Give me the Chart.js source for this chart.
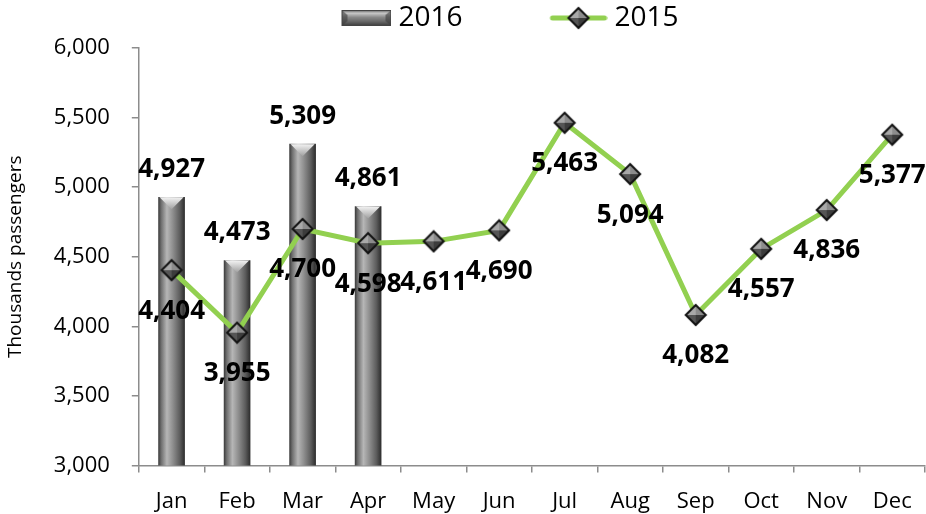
<!DOCTYPE html>
<html>
<head>
<meta charset="utf-8">
<script src="https://cdn.jsdelivr.net/npm/chart.js@4.4.1/dist/chart.umd.min.js"></script>
<style>
html,body{margin:0;padding:0;background:#fff;}
#wrap{width:926px;height:514px;position:relative;overflow:hidden;}
</style>
</head>
<body>
<div id="wrap"><canvas id="c" width="926" height="514"></canvas></div>
<script>
// ---- data ----
const months = ['Jan','Feb','Mar','Apr','May','Jun','Jul','Aug','Sep','Oct','Nov','Dec'];
const values2016 = [4927, 4473, 5309, 4861, null, null, null, null, null, null, null, null];
const values2015 = [4404, 3955, 4700, 4598, 4611, 4690, 5463, 5094, 4082, 4557, 4836, 5377];
const seriesNames = ['2016', '2015'];
const yMin = 3000, yMax = 6000, yStep = 500;
const yTitle = 'Thousands passengers';

const FONT = "'Open Sans', 'DejaVu Sans', sans-serif";
const GREEN = '#92D050';

// ---- icons ----
function diamondCanvas(r) {
  const s = r * 2 + 4, c = document.createElement('canvas');
  c.width = s; c.height = s;
  const g = c.getContext('2d'), m = s / 2;
  const facets = [
    [[m, m - r], [m - r, m], '#a9a9a9'],
    [[m, m - r], [m + r, m], '#8c8c8c'],
    [[m - r, m], [m, m + r], '#555555'],
    [[m + r, m], [m, m + r], '#3c3c3c']
  ];
  facets.forEach(f => {
    g.beginPath(); g.moveTo(m, m); g.lineTo(f[0][0], f[0][1]); g.lineTo(f[1][0], f[1][1]); g.closePath();
    g.fillStyle = f[2]; g.fill();
  });
  g.beginPath(); g.moveTo(m, m - r); g.lineTo(m + r, m); g.lineTo(m, m + r); g.lineTo(m - r, m); g.closePath();
  g.lineWidth = 2; g.strokeStyle = '#111'; g.stroke();
  return c;
}
const pointImg = diamondCanvas(10);

const BOXW = 134;
function barLegendIcon() {
  const w = BOXW + 14, h = 22, c = document.createElement('canvas');
  c.width = w; c.height = h;
  const g = c.getContext('2d');
  const x0 = w - 50, y0 = 3, bw = 50, bh = 16;
  const gr = g.createLinearGradient(0, y0, 0, y0 + bh);
  gr.addColorStop(0, '#5a5a5a'); gr.addColorStop(0.2, '#c8c8c8'); gr.addColorStop(0.45, '#8a8a8a');
  gr.addColorStop(0.7, '#6a6a6a'); gr.addColorStop(1, '#3a3a3a');
  g.fillStyle = gr; g.fillRect(x0, y0, bw, bh);
  g.fillStyle = 'rgba(60,60,60,0.6)';
  g.beginPath(); g.moveTo(x0, y0); g.lineTo(x0 + 6, y0 + 5); g.lineTo(x0 + 6, y0 + bh - 5); g.lineTo(x0, y0 + bh); g.closePath(); g.fill();
  g.beginPath(); g.moveTo(x0 + bw, y0); g.lineTo(x0 + bw - 6, y0 + 5); g.lineTo(x0 + bw - 6, y0 + bh - 5); g.lineTo(x0 + bw, y0 + bh); g.closePath(); g.fill();
  g.strokeStyle = '#444'; g.lineWidth = 1; g.strokeRect(x0 + 0.5, y0 + 0.5, bw - 1, bh - 1);
  return c;
}
function lineLegendIcon() {
  const w = BOXW + 14, h = 26, c = document.createElement('canvas');
  c.width = w; c.height = h;
  const g = c.getContext('2d');
  const x0 = w - 58;
  g.strokeStyle = GREEN; g.lineWidth = 5; g.lineCap = 'round';
  g.beginPath(); g.moveTo(x0 + 3, h / 2); g.lineTo(w - 3, h / 2); g.stroke();
  g.drawImage(pointImg, x0 + 29 - pointImg.width / 2, h / 2 - pointImg.height / 2);
  return c;
}
const legendIcons = [barLegendIcon(), lineLegendIcon()];

// ---- plugins ----
const spacerPlugin = {
  id: 'spacer',
  beforeInit(chart) {
    const box = {
      position: 'top', weight: 500, fullSize: true,
      options: { position: 'top', weight: 500, fullSize: true },
      left: 0, top: 0, right: 0, bottom: 0, width: 0, height: 0,
      isHorizontal() { return true; },
      update(maxWidth) { this.width = maxWidth; this.height = 6; },
      draw() {}
    };
    Chart.layouts.addBox(chart, box);
  }
};

const bevelPlugin = {
  id: 'bevel',
  afterDatasetDraw(chart, args) {
    if (args.meta.type !== 'bar') return;
    const ctx = chart.ctx;
    ctx.save();
    const ca = chart.chartArea;
    ctx.beginPath(); ctx.rect(ca.left, ca.top, ca.right - ca.left, ca.bottom - ca.top); ctx.clip();
    args.meta.data.forEach((el, i) => {
      const v = chart.data.datasets[args.index].data[i];
      if (v === null || v === undefined) return;
      const p = el.getProps(['x', 'y', 'width', 'base'], true);
      const l = p.x - p.width / 2, r = p.x + p.width / 2, d = 12;
      let gr = ctx.createLinearGradient(0, p.y, 0, p.y + d);
      gr.addColorStop(0, '#f2f2f2'); gr.addColorStop(1, '#a0a0a0');
      ctx.fillStyle = gr;
      ctx.beginPath(); ctx.moveTo(l + 1, p.y); ctx.lineTo(r - 1, p.y); ctx.lineTo(p.x, p.y + d); ctx.closePath(); ctx.fill();
      gr = ctx.createLinearGradient(0, p.base, 0, p.base - d);
      gr.addColorStop(0, '#6a6a6a'); gr.addColorStop(1, '#9a9a9a');
      ctx.fillStyle = gr;
      ctx.beginPath(); ctx.moveTo(l + 1, p.base); ctx.lineTo(r - 1, p.base); ctx.lineTo(p.x, p.base - d); ctx.closePath(); ctx.fill();
    });
    ctx.restore();
  }
};

const labelPlugin = {
  id: 'valueLabels',
  afterDatasetsDraw(chart) {
    const ctx = chart.ctx;
    ctx.save();
    ctx.font = "bold 26px " + FONT;
    ctx.fillStyle = '#000';
    ctx.textAlign = 'center';
    ctx.textBaseline = 'middle';
    chart.data.datasets.forEach((ds, di) => {
      const meta = chart.getDatasetMeta(di);
      meta.data.forEach((el, i) => {
        const v = ds.data[i];
        if (v === null || v === undefined) return;
        const txt = v.toLocaleString('en-US');
        if (meta.type === 'bar') {
          ctx.fillText(txt, el.x, el.y - 28);
        } else {
          ctx.fillText(txt, el.x, el.y + 41);
        }
      });
    });
    ctx.restore();
  }
};

// ---- chart ----
new Chart(document.getElementById('c'), {
  data: {
    labels: months,
    datasets: [
      {
        type: 'bar',
        label: seriesNames[0],
        data: values2016,
        order: 1,
        barThickness: 26,
        borderWidth: 0,
        backgroundColor(ctx) {
          const ch = ctx.chart, xs = ch.scales && ch.scales.x;
          if (!xs || !ch.chartArea) return '#888';
          const x = xs.getPixelForValue(ctx.dataIndex);
          const g = ch.ctx.createLinearGradient(x - 13, 0, x + 13, 0);
          g.addColorStop(0, '#3e3e3e');
          g.addColorStop(0.1, '#6e6e6e');
          g.addColorStop(0.32, '#b6b6b6');
          g.addColorStop(0.55, '#8e8e8e');
          g.addColorStop(0.82, '#5c5c5c');
          g.addColorStop(1, '#2e2e2e');
          return g;
        }
      },
      {
        type: 'line',
        label: seriesNames[1],
        data: values2015,
        order: 0,
        borderColor: GREEN,
        borderWidth: 5,
        tension: 0,
        pointStyle: pointImg,
        pointRadius: 10,
        pointHoverRadius: 10
      }
    ]
  },
  plugins: [spacerPlugin, bevelPlugin, labelPlugin],
  options: {
    responsive: false,
    animation: false,
    events: [],
    layout: { autoPadding: false, padding: { left: 4, right: 1, top: 0, bottom: -17 } },
    plugins: {
      tooltip: { enabled: false },
      legend: {
        position: 'top',
        labels: {
          usePointStyle: true,
          pointStyleWidth: BOXW,
          padding: 4,
          color: '#000',
          font: { family: FONT, size: 28 },
          generateLabels() {
            return seriesNames.map((n, i) => ({
              text: n, datasetIndex: i, pointStyle: legendIcons[i],
              fillStyle: 'transparent', strokeStyle: 'transparent', lineWidth: 0,
              fontColor: '#000', hidden: false
            }));
          }
        }
      }
    },
    scales: {
      x: {
        offset: true,
        afterFit(s) { s.paddingRight = 0; s.paddingLeft = 0; },
        grid: { offset: true, drawOnChartArea: false, drawTicks: true, tickLength: 7, color: '#8c8c8c', lineWidth: 1.5 },
        border: { color: '#8c8c8c', width: 1.5 },
        ticks: { color: '#000', padding: 16, font: { family: FONT, size: 22 }, maxRotation: 0 }
      },
      y: {
        min: yMin, max: yMax,
        grid: { drawOnChartArea: false, drawTicks: true, tickLength: 7, color: '#8c8c8c', lineWidth: 1.5 },
        border: { color: '#8c8c8c', width: 1.5 },
        ticks: {
          stepSize: yStep, color: '#000', padding: 22,
          font: { family: FONT, size: 22 },
          callback: v => v.toLocaleString('en-US')
        },
        title: {
          display: true, text: yTitle, color: '#000',
          font: { family: FONT, size: 19 },
          padding: { top: 0, bottom: 5 }
        }
      }
    }
  }
});
</script>
</body>
</html>
